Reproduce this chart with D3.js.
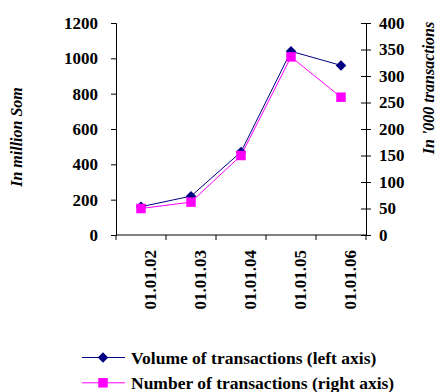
<!DOCTYPE html>
<html>
<head>
<meta charset="utf-8">
<script src="https://cdn.jsdelivr.net/npm/d3@7"></script>
<style>
  body { margin: 0; background: #fff; }
  text { font-family: "Liberation Serif", "Times New Roman", serif; font-weight: bold; fill: #000; }
</style>
</head>
<body>
<script>
var dates = ["01.01.02", "01.01.03", "01.01.04", "01.01.05", "01.01.06"];
var volume = [160, 220, 470, 1040, 960];   // left axis, million Som
var number = [50, 62, 150, 336, 260];      // right axis, '000 transactions
var leftTicks = [0, 200, 400, 600, 800, 1000, 1200];
var rightTicks = [0, 50, 100, 150, 200, 250, 300, 350, 400];
var seriesNames = ["Volume of transactions (left axis)", "Number of transactions (right axis)"];

var width = 437, height = 392;
var plot = { left: 116, right: 366, top: 23, bottom: 235 };

var svg = d3.select("body").append("svg")
    .attr("width", width)
    .attr("height", height);

var x = d3.scaleBand()
    .domain(dates)
    .range([plot.left, plot.right]);

var yL = d3.scaleLinear().domain([0, 1200]).range([plot.bottom, plot.top]);
var yR = d3.scaleLinear().domain([0, 400]).range([plot.bottom, plot.top]);

// left axis
var gL = svg.append("g")
    .attr("transform", "translate(" + plot.left + ",0)")
    .call(d3.axisLeft(yL).tickValues(leftTicks).tickFormat(d3.format("d")).tickSize(5).tickPadding(13));
gL.selectAll("text").style("font-size", "17px");

// right axis (ticks cross the line)
var gR = svg.append("g")
    .attr("transform", "translate(" + plot.right + ",0)")
    .call(d3.axisRight(yR).tickValues(rightTicks).tickFormat(d3.format("d")).tickSize(5).tickPadding(8));
gR.selectAll(".tick line").attr("x1", -5);
gR.selectAll("text").style("font-size", "17px");

// x axis, ticks between categories
var gX = svg.append("g")
    .attr("transform", "translate(0," + plot.bottom + ")")
    .call(d3.axisBottom(x).tickSize(0).tickFormat(""));
gX.select(".domain").attr("d", "M" + plot.left + ",0H" + plot.right);
var bounds = [plot.left].concat(dates.map(function(d) { return x(d) + x.bandwidth(); }));
gX.selectAll(".sep").data(bounds).enter().append("line")
    .attr("class", "sep")
    .attr("x1", function(d) { return d; }).attr("x2", function(d) { return d; })
    .attr("y1", 0).attr("y2", 5)
    .attr("stroke", "#000");

svg.selectAll(".xlab").data(dates).enter().append("text")
    .attr("class", "xlab")
    .attr("transform", function(d) {
        return "translate(" + (x(d) + x.bandwidth() / 2 + 15) + "," + (plot.bottom + 15) + ") rotate(-90)";
    })
    .attr("text-anchor", "end")
    .style("font-size", "17px")
    .text(function(d) { return d; });

svg.selectAll(".domain").attr("stroke", "#000");

// axis titles
svg.append("text")
    .attr("transform", "translate(22,137) rotate(-90)")
    .attr("text-anchor", "middle")
    .style("font-size", "16px")
    .style("font-style", "italic")
    .text("In million Som");

svg.append("text")
    .attr("transform", "translate(434,88) rotate(-90)")
    .attr("text-anchor", "middle")
    .style("font-size", "16px")
    .style("font-style", "italic")
    .text("In '000 transactions");

var cx = function(d, i) { return x(dates[i]) + x.bandwidth() / 2; };

var lineL = d3.line().x(cx).y(function(d) { return yL(d); });
var lineR = d3.line().x(cx).y(function(d) { return yR(d); });

svg.append("path").datum(volume)
    .attr("d", lineL).attr("fill", "none").attr("stroke", "#000080").attr("stroke-width", 1);
svg.append("path").datum(number)
    .attr("d", lineR).attr("fill", "none").attr("stroke", "#ff00ff").attr("stroke-width", 1);

var diamond = d3.symbol().type(d3.symbolDiamond2).size(70);
var square = d3.symbol().type(d3.symbolSquare).size(90);

svg.selectAll(".mv").data(volume).enter().append("path")
    .attr("class", "mv")
    .attr("d", diamond)
    .attr("transform", function(d, i) { return "translate(" + cx(d, i) + "," + yL(d) + ")"; })
    .attr("fill", "#000080");

svg.selectAll(".mn").data(number).enter().append("path")
    .attr("class", "mn")
    .attr("d", square)
    .attr("transform", function(d, i) { return "translate(" + cx(d, i) + "," + yR(d) + ")"; })
    .attr("fill", "#ff00ff");

// legend
var legend = svg.selectAll(".leg").data(seriesNames).enter().append("g")
    .attr("class", "leg")
    .attr("transform", function(d, i) { return "translate(82," + (357.5 + i * 25.3) + ")"; });
legend.append("line")
    .attr("x1", 0).attr("x2", 43)
    .attr("stroke", function(d, i) { return i ? "#ff00ff" : "#000080"; });
legend.append("path")
    .attr("d", function(d, i) { return i ? square() : diamond(); })
    .attr("transform", "translate(21,0)")
    .attr("fill", function(d, i) { return i ? "#ff00ff" : "#000080"; });
legend.append("text")
    .attr("x", 49).attr("dy", "0.35em")
    .style("font-size", "17.5px")
    .text(function(d) { return d; });
</script>
</body>
</html>
